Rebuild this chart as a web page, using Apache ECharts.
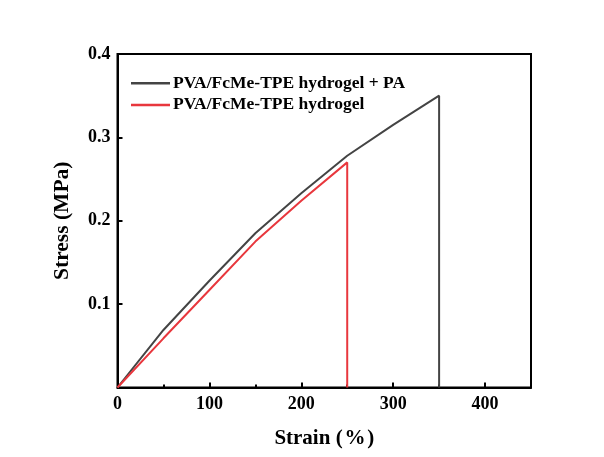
<!DOCTYPE html>
<html><head><meta charset="utf-8">
<script src="https://cdn.jsdelivr.net/npm/echarts@6/dist/echarts.min.js"></script>
<style>html,body{margin:0;padding:0;background:#fff}#c{width:604px;height:457px}</style>
</head><body><div id="c"></div>
<script>
const seriesNames = ['PVA/FcMe-TPE hydrogel + PA', 'PVA/FcMe-TPE hydrogel'];
const strainPA = [0, 50, 100, 150, 200, 250, 300, 350, 350];
const stressPA = [0, 0.069, 0.128, 0.185, 0.233, 0.278, 0.315, 0.350, 0];
const strainGel = [0, 50, 100, 150, 200, 250, 250];
const stressGel = [0, 0.059, 0.117, 0.175, 0.224, 0.270, 0];
const xTicks = [0, 100, 200, 300, 400];
const yTicks = [0.1, 0.2, 0.3, 0.4];

const font = '"Liberation Serif", "Times New Roman", serif';
const chart = echarts.init(document.getElementById('c'));
chart.setOption({
  animation: false,
  backgroundColor: '#fff',
  grid: {left: 117.5, right: 73, top: 54, bottom: 69.5, show: true, borderColor: '#000', borderWidth: 2},
  legend: {
    orient: 'vertical', left: 126, top: 67.5, itemWidth: 39, itemHeight: 2.5, itemGap: 0, icon: 'rect',
    textStyle: {fontFamily: font, fontWeight: 'bold', fontSize: 17.5, color: '#000', lineHeight: 21.6, padding: [0,0,0,-2]},
    data: seriesNames
  },
  xAxis: {
    type: 'value', min: 0, max: 450, interval: 100,
    axisLine: {lineStyle: {color: '#000', width: 2}},
    axisTick: {inside: true, length: 5, lineStyle: {width: 2, color: '#000'}},
    minorTick: {show: true, splitNumber: 2, length: 3, lineStyle: {width: 2, color: '#000'}},
    splitLine: {show: false},
    axisLabel: {fontFamily: font, fontWeight: 'bold', fontSize: 18, color: '#000', margin: 8,
      formatter: v => xTicks.includes(v) ? String(v) : ''},
    name: 'Strain (\u200A%\u200A)', nameLocation: 'middle', nameGap: 41,
    nameTextStyle: {fontFamily: font, fontWeight: 'bold', fontSize: 21, color: '#000'}
  },
  yAxis: {
    type: 'value', min: 0, max: 0.4, interval: 0.1,
    axisLine: {lineStyle: {color: '#000', width: 2}},
    axisTick: {inside: true, length: 5, lineStyle: {width: 2, color: '#000'}},
    splitLine: {show: false},
    axisLabel: {fontFamily: font, fontWeight: 'bold', fontSize: 18, color: '#000', margin: 7,
      formatter: v => { const s = yTicks.find(t => Math.abs(t - v) < 1e-9); return s === undefined ? '' : s.toFixed(1); }},
    name: 'Stress (MPa)', nameLocation: 'middle', nameGap: 44,
    nameTextStyle: {fontFamily: font, fontWeight: 'bold', fontSize: 21.5, color: '#000'}
  },
  series: [
    {name: seriesNames[0], type: 'line', symbol: 'none', color: '#444444', lineStyle: {width: 2, color: '#444444'},
      data: strainPA.map((x, i) => [x, stressPA[i]])},
    {name: seriesNames[1], type: 'line', symbol: 'none', color: '#e8373d', lineStyle: {width: 2, color: '#e8373d'},
      data: strainGel.map((x, i) => [x, stressGel[i]])}
  ]
});
</script></body></html>
